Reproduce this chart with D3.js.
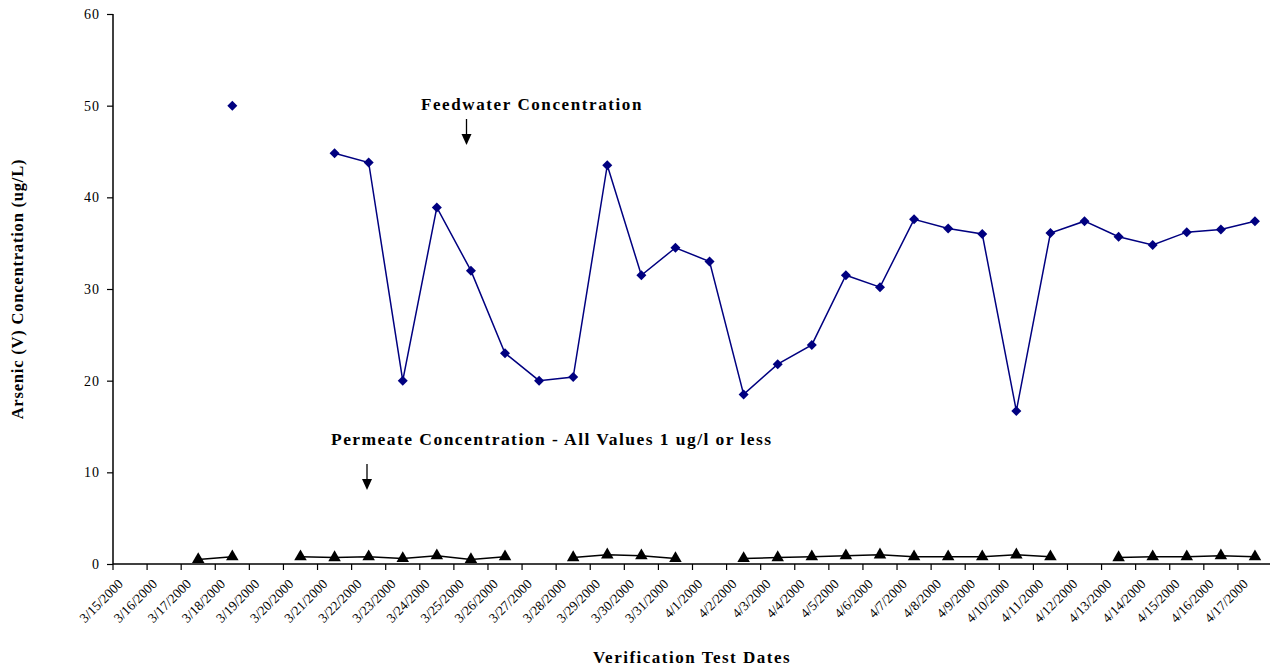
<!DOCTYPE html>
<html>
<head>
<meta charset="utf-8">
<script src="https://cdn.jsdelivr.net/npm/d3@7/dist/d3.min.js"></script>
<style>
  body { margin: 0; background: #fff; }
  svg { display: block; font-family: "Liberation Serif", "Times New Roman", serif; }
</style>
</head>
<body>
<svg width="1270" height="667"></svg>
<script>
// dates on the category axis
const dates = ['3/15/2000', '3/16/2000', '3/17/2000', '3/18/2000', '3/19/2000', '3/20/2000',
  '3/21/2000', '3/22/2000', '3/23/2000', '3/24/2000', '3/25/2000', '3/26/2000', '3/27/2000',
  '3/28/2000', '3/29/2000', '3/30/2000', '3/31/2000', '4/1/2000', '4/2/2000', '4/3/2000',
  '4/4/2000', '4/5/2000', '4/6/2000', '4/7/2000', '4/8/2000', '4/9/2000', '4/10/2000',
  '4/11/2000', '4/12/2000', '4/13/2000', '4/14/2000', '4/15/2000', '4/16/2000', '4/17/2000'];

// feedwater arsenic (ug/L), null = no sample
const feedwater = [null, null, null, 50, null, null,
  44.8, 43.8, 20, 38.9, 32, 23, 20,
  20.4, 43.5, 31.5, 34.5, 33, 18.5, 21.8,
  23.9, 31.5, 30.2, 37.6, 36.6, 36, 16.7,
  36.1, 37.4, 35.7, 34.8, 36.2, 36.5, 37.4];

// permeate arsenic (ug/L)
const permeate = [null, null, 0.5, 0.8, null, 0.8,
  0.7, 0.8, 0.6, 0.9, 0.5, 0.8, null,
  0.7, 1.0, 0.9, 0.6, null, 0.6, 0.7,
  0.8, 0.9, 1.0, 0.8, 0.8, 0.8, 1.0,
  0.8, null, 0.7, 0.8, 0.8, 0.9, 0.8];

const yTicks = [0, 10, 20, 30, 40, 50, 60];

const svg = d3.select('svg');
const plotL = 113, plotR = 1272, plotT = 14, plotB = 564;
const serif = '"Liberation Serif", "Times New Roman", serif';

const x = d3.scaleBand().domain(dates).range([plotL, plotR]).padding(0);
const y = d3.scaleLinear().domain([0, 60]).range([plotB, plotT]);
const cx = d => x(d) + x.bandwidth() / 2;

// y axis
const yAxis = svg.append('g')
  .attr('transform', `translate(${plotL},0)`)
  .call(d3.axisLeft(y).tickValues(yTicks).tickSize(6).tickPadding(7));
yAxis.attr('font-family', serif);
yAxis.select('.domain').attr('stroke', '#000').attr('stroke-width', 1.5)
  .attr('d', `M0,${plotT}V${plotB}`);
yAxis.selectAll('.tick line').attr('stroke', '#000').attr('stroke-width', 1.2);
yAxis.selectAll('.tick text')
  .attr('font-size', 14)
  .attr('letter-spacing', 1)
  .attr('fill', '#000');

// x axis, ticks on category boundaries
const xAxis = svg.append('g')
  .attr('transform', `translate(0,${plotB})`)
  .attr('font-family', serif);
xAxis.append('line')
  .attr('x1', plotL).attr('x2', plotR)
  .attr('stroke', '#000').attr('stroke-width', 1.5);
xAxis.selectAll('.xt')
  .data(dates)
  .join('line')
  .attr('class', 'xt')
  .attr('x1', d => x(d)).attr('x2', d => x(d))
  .attr('y1', 0).attr('y2', 6)
  .attr('stroke', '#000').attr('stroke-width', 1.2);
xAxis.selectAll('.xl')
  .data(dates)
  .join('text')
  .attr('class', 'xl')
  .attr('transform', d => `translate(${cx(d) - 13},${14}) rotate(-45)`)
  .attr('text-anchor', 'end')
  .attr('dy', '0.71em')
  .attr('font-size', 13.5)
  .attr('fill', '#000')
  .text(d => d);

// feedwater line + diamonds
const feedPts = dates.map((d, i) => ({ d, v: feedwater[i] }));
svg.append('path')
  .datum(feedPts)
  .attr('fill', 'none')
  .attr('stroke', '#000080')
  .attr('stroke-width', 1.5)
  .attr('d', d3.line().defined(p => p.v !== null).x(p => cx(p.d)).y(p => y(p.v)));
svg.selectAll('.feed')
  .data(feedPts.filter(p => p.v !== null))
  .join('path')
  .attr('class', 'feed')
  .attr('transform', p => `translate(${cx(p.d)},${y(p.v)})`)
  .attr('d', d3.symbol(d3.symbolDiamond2, 64))
  .attr('fill', '#000080');

// permeate line + triangles
const permPts = dates.map((d, i) => ({ d, v: permeate[i] }));
svg.append('path')
  .datum(permPts)
  .attr('fill', 'none')
  .attr('stroke', '#000')
  .attr('stroke-width', 1.5)
  .attr('d', d3.line().defined(p => p.v !== null).x(p => cx(p.d)).y(p => y(p.v)));
svg.selectAll('.perm')
  .data(permPts.filter(p => p.v !== null))
  .join('path')
  .attr('class', 'perm')
  .attr('transform', p => `translate(${cx(p.d)},${y(p.v)})`)
  .attr('d', d3.symbol(d3.symbolTriangle, 68))
  .attr('fill', '#000');

// annotations
svg.append('text')
  .attr('x', 532).attr('y', 110)
  .attr('text-anchor', 'middle')
  .attr('font-family', serif)
  .attr('font-weight', 'bold')
  .attr('font-size', 17)
  .attr('letter-spacing', 1.6)
  .text('Feedwater Concentration');

svg.append('text')
  .attr('x', 331).attr('y', 445)
  .attr('font-family', serif)
  .attr('font-weight', 'bold')
  .attr('font-size', 17.5)
  .attr('letter-spacing', 1.45)
  .text('Permeate Concentration - All Values 1 ug/l or less');

// arrows
const arrow = (ax, y1, y2) => {
  svg.append('line')
    .attr('x1', ax).attr('x2', ax).attr('y1', y1).attr('y2', y2 - 8)
    .attr('stroke', '#000').attr('stroke-width', 1.3);
  svg.append('path')
    .attr('d', `M${ax - 5},${y2 - 11}L${ax + 5},${y2 - 11}L${ax},${y2}Z`)
    .attr('fill', '#000');
};
arrow(466.5, 119, 145);
arrow(367, 464, 490);

// axis titles
svg.append('text')
  .attr('transform', `translate(23,${(plotT + plotB) / 2}) rotate(-90)`)
  .attr('text-anchor', 'middle')
  .attr('font-family', serif)
  .attr('font-weight', 'bold')
  .attr('font-size', 16.5)
  .attr('letter-spacing', 0.8)
  .text('Arsenic (V) Concentration (ug/L)');

svg.append('text')
  .attr('x', 692).attr('y', 663)
  .attr('text-anchor', 'middle')
  .attr('font-family', serif)
  .attr('font-weight', 'bold')
  .attr('font-size', 17)
  .attr('letter-spacing', 1.5)
  .text('Verification Test Dates');
</script>
</body>
</html>
